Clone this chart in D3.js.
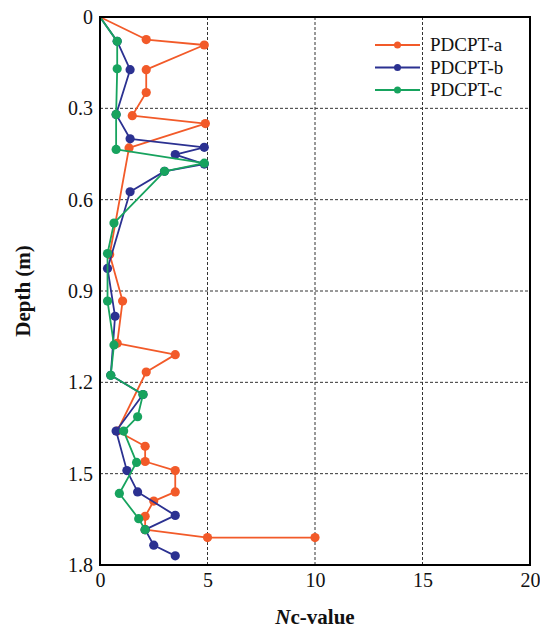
<!DOCTYPE html>
<html>
<head>
<meta charset="utf-8">
<script src="https://cdn.jsdelivr.net/npm/d3@7"></script>
<style>
  html, body { margin: 0; padding: 0; background: #fff; }
  svg { display: block; font-family: "Liberation Serif", "Times New Roman", serif; }
</style>
</head>
<body>
<svg id="chart" width="540" height="631"></svg>
<script>
// Nc-value profiles with depth for three PDCPT soundings
const seriesNames = ["PDCPT-a", "PDCPT-b", "PDCPT-c"];
const seriesColors = ["#F25A29", "#2B3191", "#17A35E"];

const ncA    = [0, 2.15, 4.85, 2.15, 2.15, 1.5, 4.9, 1.35, 0.45, 1.05, 0.8, 3.5, 2.15, 0.8, 2.1, 2.1, 3.5, 3.5, 2.5, 2.1, 2.1, 5, 10];
const depthA = [0, 0.074, 0.092, 0.173, 0.248, 0.324, 0.35, 0.43, 0.78, 0.933, 1.072, 1.109, 1.166, 1.36, 1.41, 1.46, 1.49, 1.56, 1.59, 1.64, 1.684, 1.71, 1.71];

const ncB    = [0, 0.8, 1.4, 0.75, 1.4, 4.85, 3.5, 4.85, 3.0, 1.4, 0.35, 0.7, 0.5, 2.0, 0.75, 1.25, 1.75, 3.5, 2.1, 2.5, 3.5];
const depthB = [0, 0.08, 0.173, 0.32, 0.40, 0.428, 0.452, 0.483, 0.507, 0.574, 0.826, 0.983, 1.177, 1.24, 1.36, 1.49, 1.56, 1.637, 1.684, 1.735, 1.77];

const ncC    = [0, 0.8, 0.8, 0.75, 0.75, 4.85, 3.0, 0.65, 0.35, 0.35, 0.65, 0.5, 2.0, 1.75, 1.1, 1.7, 0.9, 1.8, 2.1];
const depthC = [0, 0.08, 0.17, 0.32, 0.435, 0.48, 0.507, 0.677, 0.777, 0.933, 1.077, 1.177, 1.24, 1.313, 1.36, 1.463, 1.565, 1.648, 1.684];

const xTicks = [0, 5, 10, 15, 20];
const yTicks = [0, 0.3, 0.6, 0.9, 1.2, 1.5, 1.8];

const series = [
  { name: seriesNames[0], color: seriesColors[0], pts: ncA.map((v, i) => [v, depthA[i]]) },
  { name: seriesNames[1], color: seriesColors[1], pts: ncB.map((v, i) => [v, depthB[i]]) },
  { name: seriesNames[2], color: seriesColors[2], pts: ncC.map((v, i) => [v, depthC[i]]) }
];

const svg = d3.select("#chart");
const plotL = 100, plotR = 530, plotT = 17, plotB = 565;

const x = d3.scaleLinear().domain([0, 20]).range([plotL, plotR]);
const y = d3.scaleLinear().domain([0, 1.8]).range([plotT, plotB]);

// dashed grid
const grid = svg.append("g");
grid.selectAll("line.gx").data(xTicks.filter(t => t > 0 && t < 20)).join("line")
  .attr("x1", d => x(d)).attr("x2", d => x(d))
  .attr("y1", plotT).attr("y2", plotB)
  .attr("stroke", "#333").attr("stroke-width", 1).attr("stroke-dasharray", "3,2");
grid.selectAll("line.gy").data(yTicks.filter(t => t > 0 && t < 1.8)).join("line")
  .attr("x1", plotL).attr("x2", plotR)
  .attr("y1", d => y(d)).attr("y2", d => y(d))
  .attr("stroke", "#333").attr("stroke-width", 1).attr("stroke-dasharray", "3,2");

// axes (labels only, frame drawn separately)
const xAxis = d3.axisBottom(x).tickValues(xTicks).tickSize(0).tickPadding(8).tickFormat(d3.format("d"));
const yAxis = d3.axisLeft(y).tickValues(yTicks).tickSize(0).tickPadding(7).tickFormat(d => d === 0 ? "0" : d3.format(".1f")(d));

const gx = svg.append("g").attr("transform", `translate(0,${plotB})`).call(xAxis);
const gy = svg.append("g").attr("transform", `translate(${plotL},0)`).call(yAxis);
[gx, gy].forEach(g => {
  g.select(".domain").remove();
  g.selectAll("text").attr("font-family", "Liberation Serif, serif").attr("font-size", 20).attr("fill", "#111");
});

// data lines and markers
const line = d3.line().x(d => x(d[0])).y(d => y(d[1]));
series.forEach(s => {
  const g = svg.append("g");
  g.append("path").datum(s.pts)
    .attr("d", line).attr("fill", "none")
    .attr("stroke", s.color).attr("stroke-width", 1.8).attr("stroke-linejoin", "round");
  g.selectAll("circle").data(s.pts.slice(1)).join("circle")
    .attr("cx", d => x(d[0])).attr("cy", d => y(d[1])).attr("r", 4.6)
    .attr("fill", s.color);
});

// frame
svg.append("rect")
  .attr("x", plotL).attr("y", plotT).attr("width", plotR - plotL).attr("height", plotB - plotT)
  .attr("fill", "none").attr("stroke", "#000").attr("stroke-width", 2);

// legend
const legend = svg.append("g");
series.forEach((s, i) => {
  const ly = 45 + i * 22.5;
  legend.append("line").attr("x1", 375).attr("x2", 420).attr("y1", ly).attr("y2", ly)
    .attr("stroke", s.color).attr("stroke-width", 1.8);
  legend.append("circle").attr("cx", 397.5).attr("cy", ly).attr("r", 3.5).attr("fill", s.color);
  legend.append("text").attr("x", 430).attr("y", ly + 6)
    .attr("font-size", 19).attr("fill", "#111").text(s.name);
});

// axis titles
const xTitle = svg.append("text").attr("x", 315).attr("y", 624)
  .attr("text-anchor", "middle").attr("font-size", 21).attr("font-weight", "bold").attr("fill", "#111");
xTitle.append("tspan").attr("font-style", "italic").text("N");
xTitle.append("tspan").text("c-value");

svg.append("text")
  .attr("transform", `translate(30,${(plotT + plotB) / 2}) rotate(-90)`)
  .attr("text-anchor", "middle").attr("font-size", 21).attr("font-weight", "bold").attr("fill", "#111")
  .text("Depth (m)");
</script>
</body>
</html>
